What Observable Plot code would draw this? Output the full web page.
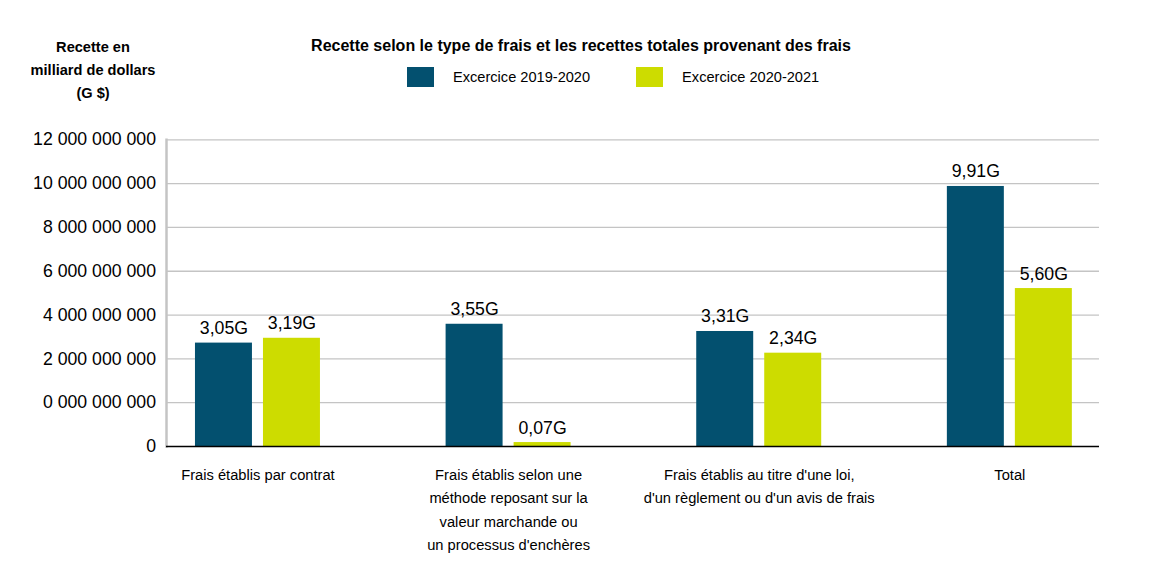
<!DOCTYPE html>
<html>
<head>
<meta charset="utf-8">
<script src="https://cdn.jsdelivr.net/npm/d3@7"></script>
<script src="https://cdn.jsdelivr.net/npm/@observablehq/plot@0.6"></script>
<style>
  html, body { margin: 0; padding: 0; background: #fff; overflow: hidden; }
  body { width: 1162px; height: 574px; font-family: "Liberation Sans", Arial, sans-serif; color: #000; }
  #header { position: relative; width: 1162px; height: 110px; }
  #ytitle { position: absolute; left: 13px; width: 160px; top: 36px; text-align: center;
            font-weight: bold; font-size: 14.6px; line-height: 23px; }
  #title { position: absolute; left: 0; width: 1162px; top: 36px; text-align: center;
           font-weight: bold; font-size: 16px; line-height: 20px; }
  #legend { position: absolute; left: 407px; top: 67px; display: flex; align-items: center; }
  .item { display: flex; align-items: center; margin-right: 46px; }
  .sw { width: 27px; height: 20px; margin-right: 19px; }
  .lt { font-size: 14.6px; line-height: 20px; }
  #chart svg { display: block; }
</style>
</head>
<body>
<div id="header">
  <div id="ytitle">Recette en<br>milliard de dollars<br>(G $)</div>
  <div id="title">Recette selon le type de frais et les recettes totales provenant des frais</div>
  <div id="legend"></div>
</div>
<div id="chart"></div>
<script>
const categories = [
  "Frais établis par contrat",
  "Frais établis selon une\nméthode reposant sur la\nvaleur marchande ou\nun processus d'enchères",
  "Frais établis au titre d'une loi,\nd'un règlement ou d'un avis de frais",
  "Total"
];
const seriesNames = ["Excercice 2019-2020", "Excercice 2020-2021"];
const seriesColors = ["#03506f", "#cddc00"];
// bar heights as drawn against the axis grid
const values2019 = [4.72e9, 5.58e9, 5.25e9, 11.87e9];
const values2020 = [4.94e9, 0.18e9, 4.26e9, 7.21e9];
// value labels as printed
const labels2019 = ["3,05G", "3,55G", "3,31G", "9,91G"];
const labels2020 = ["3,19G", "0,07G", "2,34G", "5,60G"];
const yTickValues = [0, 2e9, 4e9, 6e9, 8e9, 10e9, 12e9, 14e9];
const yTickLabels = ["0", "0 000 000 000", "2 000 000 000", "4 000 000 000", "6 000 000 000",
                     "8 000 000 000", "10 000 000 000", "12 000 000 000"];

const rows2019 = categories.map((c, i) => ({category: c, value: values2019[i], label: labels2019[i]}));
const rows2020 = categories.map((c, i) => ({category: c, value: values2020[i], label: labels2020[i]}));

// legend
const legend = document.getElementById("legend");
seriesNames.forEach((name, i) => {
  const item = document.createElement("div");
  item.className = "item";
  const sw = document.createElement("div");
  sw.className = "sw";
  sw.style.background = seriesColors[i];
  const t = document.createElement("span");
  t.className = "lt";
  t.textContent = name;
  item.appendChild(sw); item.appendChild(t);
  legend.appendChild(item);
});

const fontSize = 17.7;
const chart = Plot.plot({
  width: 1162,
  height: 464,
  marginLeft: 166,
  marginRight: 63,
  marginTop: 29.3,
  marginBottom: 128,
  style: {fontFamily: "'Liberation Sans', Arial, sans-serif", fontSize: "14.7px", color: "#000", background: "#fff"},
  x: {type: "band", domain: categories, paddingInner: 0.4774, paddingOuter: 0.1, align: 0.518, round: false, axis: null},
  y: {domain: [0, 14e9], axis: null},
  marks: [
    Plot.gridY(yTickValues.slice(1), {stroke: "#c4c4c4", strokeOpacity: 1, strokeWidth: 1.3}),
    Plot.frame({anchor: "left", stroke: "#c4c4c4", strokeWidth: 2.5}),
    Plot.axisY({ticks: yTickValues, tickFormat: d => yTickLabels[yTickValues.indexOf(d)], label: null,
                tickSize: 0, tickPadding: 10.5, fontSize: fontSize, fill: "#000"}),
    Plot.barY(rows2019, {x: "category", y: "value", fill: seriesColors[0], insetLeft: 3, insetRight: 71}),
    Plot.barY(rows2020, {x: "category", y: "value", fill: seriesColors[1], insetLeft: 71, insetRight: 3}),
    Plot.ruleY([0], {stroke: "#000", strokeWidth: 1.5}),
    Plot.text(rows2019, {x: "category", y: "value", text: "label", dx: -34, dy: -9, lineAnchor: "bottom", fontSize: fontSize, fill: "#000"}),
    Plot.text(rows2020, {x: "category", y: "value", text: "label", dx: 34, dy: -9, lineAnchor: "bottom", fontSize: fontSize, fill: "#000"}),
    Plot.text(categories, {x: d => d, text: d => d, frameAnchor: "bottom", lineAnchor: "top", dy: 17, lineHeight: 1.59, fontSize: 14.7, fill: "#000"})
  ]
});
document.getElementById("chart").appendChild(chart);
</script>
</body>
</html>
